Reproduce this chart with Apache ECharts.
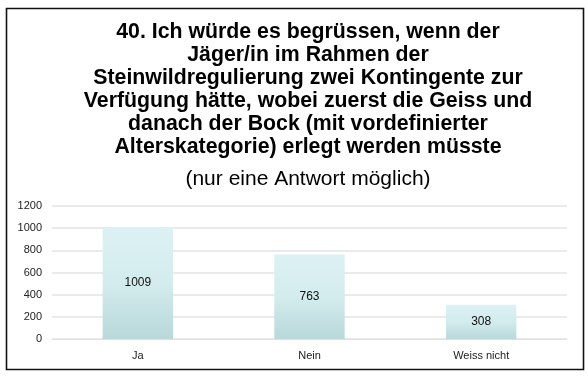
<!DOCTYPE html>
<html><head><meta charset="utf-8">
<script src="https://cdn.jsdelivr.net/npm/echarts@6/dist/echarts.min.js"></script>
<style>html,body{margin:0;padding:0;background:#fff}#c{width:588px;height:378px}</style>
</head><body><div id="c"></div>
<script>
const categories = ['Ja', 'Nein', 'Weiss nicht'];
const values = [1009, 763, 308];
const yTicks = [0, 200, 400, 600, 800, 1000, 1200];
const titleLines = [
  '40. Ich würde es begrüssen, wenn der',
  'Jäger/in im Rahmen der',
  'Steinwildregulierung zwei Kontingente zur',
  'Verfügung hätte, wobei zuerst die Geiss und',
  'danach der Bock (mit vordefinierter',
  'Alterskategorie) erlegt werden müsste'
];
const subtitle = '(nur eine Antwort möglich)';

const chart = echarts.init(document.getElementById('c'), null, {renderer: 'canvas'});
chart.setOption({
  backgroundColor: '#fff',
  animation: false,
  graphic: [{
    type: 'rect', shape: {x: 6.5, y: 8.5, width: 577, height: 361},
    style: {fill: 'none', stroke: '#111', lineWidth: 1.6}, z: 100
  }],
  title: {
    text: titleLines.join('\n'),
    subtext: subtitle,
    left: 308, textAlign: 'center', top: 21, itemGap: 9, padding: 0,
    textStyle: {fontFamily: 'Liberation Sans, Arial', fontSize: 21.3, fontWeight: 'bold', color: '#000', lineHeight: 23},
    subtextStyle: {fontFamily: 'Liberation Sans, Arial', fontSize: 21, color: '#000', lineHeight: 22}
  },
  grid: {left: 52, right: 21, top: 206, bottom: 39, containLabel: false},
  xAxis: {
    type: 'category', data: categories,
    axisLine: {show: true, lineStyle: {color: '#e0e0e0', width: 1}},
    axisTick: {show: false},
    axisLabel: {fontFamily: 'Liberation Sans, Arial', fontSize: 11, color: '#222', margin: 11}
  },
  yAxis: {
    type: 'value', min: yTicks[0], max: yTicks[yTicks.length - 1], interval: 200,
    axisLine: {show: false}, axisTick: {show: false},
    splitLine: {lineStyle: {color: '#e3e3e3', width: 1.5}},
    axisLabel: {fontFamily: 'Liberation Sans, Arial', fontSize: 11, color: '#222', margin: 10,
      formatter: v => String(v)}
  },
  series: [{
    type: 'bar', data: values, barWidth: '41%',
    itemStyle: {color: new echarts.graphic.LinearGradient(0, 0, 0, 1, [
      {offset: 0, color: '#dcf1f3'}, {offset: 0.5, color: '#d4ecee'}, {offset: 1, color: '#b8d8d9'}])},
    label: {show: true, position: 'inside', fontFamily: 'Liberation Sans, Arial', fontSize: 12, color: '#111'}
  }]
});
</script></body></html>
